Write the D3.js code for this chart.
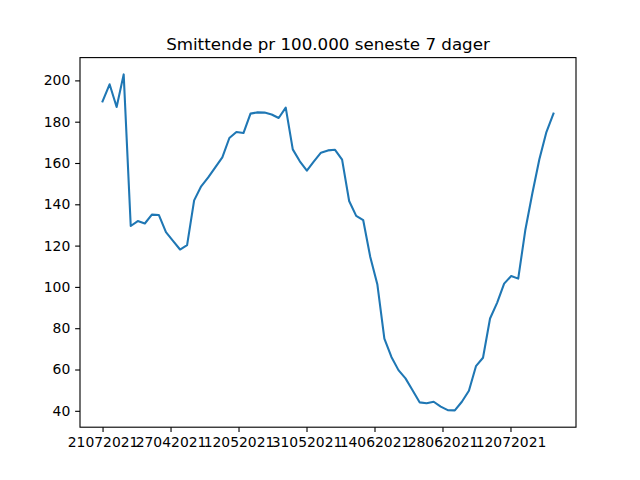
<!DOCTYPE html>
<html>
<head>
<meta charset="utf-8">
<script src="https://cdn.jsdelivr.net/npm/d3@7"></script>
<style>
  html, body { margin: 0; padding: 0; background: #fff; }
  svg { display: block; font-family: "DejaVu Sans", sans-serif; }
</style>
</head>
<body>
<svg id="chart" width="640" height="480"></svg>
<script>
const title = "Smittende pr 100.000 seneste 7 dager";
const values = [
  189.8, 198.1, 187.1, 202.9, 129.5, 131.9, 130.7, 135.0, 134.8, 126.5,
  122.3, 118.1, 120.2, 141.9, 148.7, 153.0, 157.9, 162.7, 172.1, 175.0,
  174.5, 183.9, 184.5, 184.4, 183.5, 181.8, 186.8, 166.6, 160.8, 156.3,
  160.8, 165.0, 166.1, 166.4, 161.6, 141.6, 134.4, 132.3, 114.5, 101.3,
  75.0, 66.1, 59.7, 55.7, 50.0, 44.1, 43.7, 44.4, 42.0, 40.3,
  40.2, 44.4, 49.7, 61.6, 65.7, 84.7, 92.3, 101.6, 105.3, 104.0,
  127.4, 145.2, 161.8, 175.0, 183.9
];
const xTickPositions = [0, 9.65, 19.3, 28.95, 38.6, 48.25, 57.9];
const xTickLabels = ["21072021", "27042021", "12052021", "31052021", "14062021", "28062021", "12072021"];
const yTicks = [40, 60, 80, 100, 120, 140, 160, 180, 200];

(function () {
const mLeft = 80, mRight = 576, mTop = 57.6, mBottom = 427.2;
const svg = d3.select("#chart");

const n = values.length;
const xPad = (n - 1) * 0.05;
const x = d3.scaleLinear().domain([-xPad, n - 1 + xPad]).range([mLeft, mRight]);
const yMin = d3.min(values), yMax = d3.max(values);
const yPad = (yMax - yMin) * 0.05;
const y = d3.scaleLinear().domain([yMin - yPad, yMax + yPad]).range([mBottom, mTop]);

const fontSize = 13.9;
const tickLen = 4.86;

// line
const line = d3.line().x((d, i) => x(i)).y(d => y(d));
svg.append("path")
  .datum(values)
  .attr("d", line)
  .attr("fill", "none")
  .attr("stroke", "#1f77b4")
  .attr("stroke-width", 2.08)
  .attr("stroke-linejoin", "round")
  .attr("stroke-linecap", "square");

// axes
const xAxis = d3.axisBottom(x)
  .tickValues(xTickPositions)
  .tickFormat((d, i) => xTickLabels[i])
  .tickSize(tickLen)
  .tickPadding(4.86);
const gx = svg.append("g").attr("transform", `translate(0,${mBottom})`).call(xAxis);
gx.select(".domain").remove();
gx.selectAll("line").attr("stroke", "#000").attr("stroke-width", 1.11);
gx.selectAll("text").attr("font-size", fontSize).attr("font-family", "DejaVu Sans").attr("fill", "#000");

const yAxis = d3.axisLeft(y)
  .tickValues(yTicks)
  .tickSize(tickLen)
  .tickPadding(4.86);
const gy = svg.append("g").attr("transform", `translate(${mLeft},0)`).call(yAxis);
gy.select(".domain").remove();
gy.selectAll("line").attr("stroke", "#000").attr("stroke-width", 1.11);
gy.selectAll("text").attr("font-size", fontSize).attr("font-family", "DejaVu Sans").attr("fill", "#000");

// frame
svg.append("rect")
  .attr("x", mLeft).attr("y", mTop)
  .attr("width", mRight - mLeft).attr("height", mBottom - mTop)
  .attr("fill", "none").attr("stroke", "#000").attr("stroke-width", 1.11);

// title
svg.append("text")
  .attr("x", (mLeft + mRight) / 2)
  .attr("y", mTop - 8.0)
  .attr("text-anchor", "middle")
  .attr("font-size", 16.7)
  .attr("font-family", "DejaVu Sans")
  .attr("fill", "#000")
  .text(title);
})();
</script>
</body>
</html>
